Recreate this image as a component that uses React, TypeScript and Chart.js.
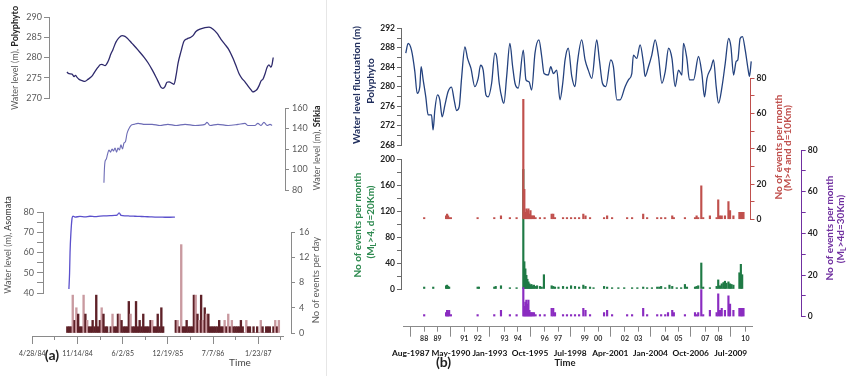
import React, { useEffect, useRef } from 'react';
import { Chart, registerables } from 'chart.js';

Chart.register(...registerables);

const FONT = 'Lato, "Open Sans", "DejaVu Sans", sans-serif';
const CW = 850;
const CH = 376;

// ---------------- Panel (a) : days since 4/28/84 ----------------
const A_TICK_DAYS = [0, 200, 400, 600, 800, 1000];
const A_TICK_LABELS = ['4/28/84', '11/14/84', '6/2/85', '12/19/85', '7/7/86', '1/23/87'];
const A_MINOR_DAYS = [0, 100, 200, 300, 400, 500, 600, 700, 800, 900, 1000, 1100];

const polyA_day = [153, 162, 176, 185, 191, 198, 207, 220, 233, 246, 264, 277, 291, 300, 308, 322, 335, 348, 357, 370, 384, 397, 410, 423, 441, 459, 476, 494, 512, 530, 547, 561, 569, 578, 587, 596, 605, 619, 627, 636, 645, 658, 671, 685, 698, 711, 724, 742, 764, 782, 800, 817, 835, 853, 870, 888, 901, 915, 928, 941, 954, 968, 976, 985, 994, 1003, 1012, 1021, 1030, 1039, 1047, 1056, 1061, 1066];
const polyA_level = [276.4, 276.0, 275.9, 275.3, 275.6, 275.1, 274.6, 274.3, 274.1, 274.6, 275.4, 276.5, 277.6, 278.2, 278.3, 278.0, 279.0, 280.9, 282.0, 283.8, 284.9, 285.4, 285.2, 284.6, 283.5, 282.4, 281.3, 280.1, 278.7, 277.0, 275.2, 273.6, 272.7, 272.4, 272.8, 273.9, 274.0, 273.6, 273.4, 275.5, 278.6, 281.5, 284.0, 284.6, 284.9, 285.4, 286.4, 287.0, 287.4, 287.5, 287.0, 286.0, 284.5, 283.2, 281.9, 279.8, 278.0, 276.0, 274.8, 274.0, 273.0, 272.0, 271.5, 271.7, 272.1, 273.0, 274.2, 274.7, 276.0, 277.6, 278.2, 277.6, 278.3, 280.0];

const sfikia_day = [317, 319, 322, 327, 333, 339, 346, 353, 359, 366, 373, 379, 386, 392, 399, 406, 412, 419, 428, 437, 450, 468, 499, 530, 565, 600, 636, 676, 720, 764, 773, 786, 821, 866, 910, 941, 954, 985, 998, 1012, 1025, 1039, 1052, 1061];
const sfikia_level = [87, 100, 108, 110, 115, 119, 117, 120, 118, 121, 117, 121, 119, 124, 120, 126, 127, 135, 140, 143, 144, 145, 144, 144, 143, 144, 143, 144, 143, 144, 146, 143, 144, 143, 144, 145, 143, 143, 145, 143, 146, 143, 144, 143];

const asomata_day = [162, 165, 167, 171, 176, 180, 189, 211, 233, 255, 278, 300, 322, 344, 365, 375, 384, 393, 412, 432, 454, 476, 498, 521, 543, 565, 587, 609, 631];
const asomata_level = [42, 50, 60, 70, 77, 78, 77.5, 77.8, 77.6, 77.9, 77.7, 78.0, 78.1, 78.2, 78.3, 78.4, 79.6, 78.3, 78.1, 78.0, 77.9, 77.8, 77.7, 77.6, 77.5, 77.5, 77.4, 77.4, 77.5];

const eventDayA = [155, 163, 171, 179, 187, 195, 203, 211, 219, 227, 235, 243, 251, 259, 267, 275, 283, 291, 299, 307, 315, 323, 331, 339, 347, 355, 363, 371, 379, 387, 395, 403, 411, 419, 427, 435, 443, 451, 459, 467, 475, 483, 491, 499, 507, 515, 523, 531, 539, 547, 555, 563, 571, 579,
  635, 643, 651, 659, 667, 675, 683, 691, 699, 707, 715, 723, 731, 739, 747, 755, 763, 771, 779, 787, 795, 803, 811, 819, 827, 835, 843, 851, 859, 867, 875, 883, 891, 899, 907, 915, 923, 931, 939, 947, 955, 963, 971, 979, 987, 995, 1003, 1011, 1019, 1027, 1035, 1043, 1051, 1059, 1067, 1075, 1083, 1091];
const eventCountA = [1, 1, 1, 6, 2, 4, 3, 1, 1, 6, 3, 2, 1, 1, 2, 1, 6, 1, 2, 4, 3, 1, 1, 0, 1, 3, 1, 1, 3, 3, 2, 1, 1, 1, 5, 3, 1, 1, 5, 1, 2, 1, 3, 1, 1, 1, 2, 2, 1, 1, 3, 1, 4, 1,
  2, 2, 1, 14, 1, 1, 2, 1, 1, 1, 6, 6, 3, 2, 6, 2, 4, 3, 3, 1, 1, 1, 1, 1, 2, 1, 1, 2, 1, 3, 1, 2, 1, 1, 1, 1, 2, 1, 0, 2, 1, 1, 0, 1, 0, 1, 0, 2, 1, 0, 1, 1, 1, 0, 1, 2, 1, 2];

// ---------------- Panel (b) : decimal years ----------------
const B_MAJOR_YEARS = [1987.5833, 1990.3333, 1993.0, 1995.75, 1998.5, 2001.25, 2004.0, 2006.75, 2009.5];
const B_MAJOR_LABELS = ['Aug-1987', 'May-1990', 'Jan-1993', 'Oct-1995', 'Jul-1998', 'Apr-2001', 'Jan-2004', 'Oct-2006', 'Jul-2009'];
const B_MINOR_YEARS = [1988.5, 1989.4167, 1991.25, 1992.1667, 1994.0, 1994.9167, 1996.75, 1997.6667, 1999.5, 2000.4167, 2002.25, 2003.1667, 2005.0, 2005.9167, 2007.75, 2008.6667, 2010.5];
const B_MINOR_LABELS = ['88', '89', '91', '92', '93', '94', '96', '97', '99', '00', '02', '03', '04', '05', '07', '08', '10'];

const polyB_year = [1987.24, 1987.40, 1987.63, 1987.86, 1988.02, 1988.20, 1988.29, 1988.43, 1988.61, 1988.77, 1989.00, 1989.11, 1989.23, 1989.41, 1989.57, 1989.73, 1989.92, 1990.14, 1990.37, 1990.55, 1990.72, 1990.90, 1991.06, 1991.29, 1991.47, 1991.70, 1991.97, 1992.20, 1992.36, 1992.54, 1992.73, 1992.88, 1993.12, 1993.34, 1993.46, 1993.64, 1993.85, 1993.96, 1994.15, 1994.37, 1994.56, 1994.72, 1994.94, 1995.29, 1995.47, 1995.68, 1995.86, 1996.09, 1996.36, 1996.55, 1996.71, 1997.00, 1997.17, 1997.35, 1997.58, 1997.80, 1997.99, 1998.15, 1998.37, 1998.61, 1998.83, 1998.99, 1999.29, 1999.52, 1999.74, 1999.98, 2000.32, 2000.50, 2000.71, 2000.94, 2001.28, 2001.46, 2001.70, 2001.92, 2002.26, 2002.49, 2002.72, 2002.83, 2003.06, 2003.29, 2003.52, 2003.63, 2003.86, 2004.09, 2004.32, 2004.55, 2004.78, 2005.01, 2005.24, 2005.47, 2005.69, 2005.92, 2006.15, 2006.26, 2006.49, 2006.67, 2006.95, 2007.29, 2007.52, 2007.70, 2007.87, 2008.14, 2008.32, 2008.50, 2008.66, 2008.90, 2009.12, 2009.35, 2009.51, 2009.69, 2009.87, 2009.98, 2010.14, 2010.30, 2010.49, 2010.71, 2010.78, 2010.90];
const polyB_level = [286.9, 288.9, 287.5, 283.1, 278.6, 280.0, 284.1, 281.4, 277.9, 274.2, 274.2, 271.1, 275.2, 278.3, 277.3, 273.8, 276.2, 279.0, 279.9, 277.3, 275.1, 275.9, 281.7, 288.2, 285.8, 283.8, 280.0, 281.7, 284.4, 283.4, 278.3, 277.9, 280.7, 286.9, 286.2, 280.7, 277.3, 276.6, 282.1, 288.9, 284.1, 280.7, 279.7, 287.5, 281.4, 281.0, 279.3, 286.9, 289.6, 286.2, 282.7, 282.4, 284.1, 282.7, 283.4, 277.3, 280.7, 285.5, 287.9, 282.1, 280.0, 284.8, 289.6, 285.5, 283.4, 281.7, 289.6, 285.5, 280.7, 280.0, 285.5, 284.1, 277.3, 277.3, 280.0, 281.4, 282.7, 286.5, 285.8, 288.6, 284.8, 282.1, 284.1, 286.5, 289.6, 286.2, 280.7, 283.1, 287.9, 285.8, 280.0, 283.4, 282.4, 288.9, 285.8, 281.4, 281.4, 286.2, 282.7, 277.9, 281.7, 283.8, 285.5, 280.0, 276.6, 280.0, 284.8, 289.9, 288.2, 282.4, 285.2, 285.5, 289.9, 290.3, 287.5, 283.1, 282.1, 285.2];

const red_year = [1988.50, 1990.00, 1990.07, 1990.14, 1990.21, 1990.33, 1992.16, 1993.30, 1993.76, 1994.37, 1994.83, 1995.29, 1995.36, 1995.43, 1995.50, 1995.57, 1995.64, 1995.71, 1995.78, 1995.85, 1995.92, 1996.02, 1996.13, 1996.43, 1996.75, 1997.23, 1997.34, 1997.46, 1998.01, 1998.28, 1998.56, 1998.83, 1999.11, 1999.40, 1999.55, 1999.86, 2000.82, 2001.03, 2001.37, 2002.40, 2002.74, 2003.50, 2003.77, 2004.46, 2004.73, 2005.01, 2005.49, 2005.60, 2006.36, 2007.05, 2007.16, 2007.27, 2007.48, 2007.61, 2008.07, 2008.53, 2008.64, 2008.76, 2008.88, 2009.10, 2009.34, 2009.45, 2009.68, 2010.09, 2010.19, 2010.28, 2010.37];
const red_count = [1, 2, 3, 2, 1, 1, 1, 1, 2, 1, 1, 68, 17, 4, 6, 5, 6, 3, 5, 2, 2, 2, 1, 1, 1, 3, 3, 1, 1, 1, 1, 1, 1, 3, 2, 1, 1, 2, 1, 1, 1, 3, 1, 1, 1, 1, 2, 1, 1, 1, 2, 1, 19, 1, 2, 1, 11, 2, 2, 2, 10, 5, 2, 4, 4, 4, 4];

const green_year = [1988.50, 1989.12, 1990.00, 1990.07, 1990.14, 1990.21, 1992.16, 1992.25, 1993.30, 1993.40, 1993.76, 1994.37, 1994.83, 1995.29, 1995.36, 1995.43, 1995.50, 1995.57, 1995.64, 1995.71, 1995.78, 1995.85, 1995.92, 1996.02, 1996.13, 1996.23, 1996.43, 1996.55, 1996.70, 1997.23, 1997.34, 1997.46, 1997.70, 1998.01, 1998.28, 1998.56, 1998.83, 1999.11, 1999.40, 1999.55, 1999.86, 2000.10, 2000.82, 2001.03, 2001.37, 2001.80, 2002.20, 2002.74, 2003.10, 2003.50, 2003.77, 2004.10, 2004.46, 2004.60, 2004.73, 2005.01, 2005.30, 2005.49, 2005.80, 2006.10, 2006.36, 2006.50, 2007.05, 2007.16, 2007.27, 2007.48, 2007.61, 2008.07, 2008.53, 2008.64, 2008.76, 2008.88, 2009.00, 2009.10, 2009.20, 2009.34, 2009.45, 2009.55, 2009.68, 2010.09, 2010.19, 2010.28];
const green_count = [3, 3, 5, 6, 4, 3, 3, 3, 3, 4, 5, 2, 2, 184, 42, 31, 21, 15, 11, 8, 6, 7, 5, 6, 4, 5, 4, 3, 22, 5, 4, 3, 3, 4, 3, 5, 4, 3, 6, 4, 3, 2, 4, 3, 2, 2, 2, 2, 2, 3, 2, 2, 3, 3, 4, 2, 6, 4, 2, 2, 7, 3, 3, 4, 5, 40, 3, 2, 4, 14, 5, 8, 10, 12, 9, 11, 8, 7, 6, 25, 38, 22];

const purple_year = [1988.50, 1990.00, 1990.07, 1990.14, 1990.21, 1990.33, 1992.16, 1993.30, 1993.76, 1994.37, 1994.83, 1995.29, 1995.36, 1995.43, 1995.50, 1995.57, 1995.64, 1995.71, 1995.78, 1995.85, 1995.92, 1996.02, 1996.13, 1996.43, 1996.75, 1997.23, 1997.34, 1997.46, 1998.01, 1998.28, 1998.56, 1998.83, 1999.11, 1999.40, 1999.55, 1999.86, 2000.82, 2001.03, 2001.37, 2002.40, 2002.74, 2003.50, 2003.77, 2004.46, 2004.73, 2005.01, 2005.20, 2005.49, 2005.60, 2006.36, 2007.05, 2007.16, 2007.27, 2007.48, 2007.61, 2008.07, 2008.53, 2008.64, 2008.76, 2008.88, 2009.10, 2009.34, 2009.45, 2009.68, 2010.09, 2010.19, 2010.28, 2010.37];
const purple_count = [1, 2, 3, 2, 3, 1, 1, 1, 3, 1, 1, 14, 5, 7, 8, 6, 8, 3, 2, 2, 2, 2, 1, 1, 1, 4, 4, 2, 1, 1, 1, 1, 1, 4, 3, 1, 2, 3, 1, 1, 1, 4, 1, 1, 1, 1, 2, 3, 2, 1, 2, 1, 2, 13, 1, 3, 2, 11, 3, 4, 3, 10, 6, 3, 4, 4, 4, 4];

// ---------------- layout mapping (pixels <-> data) ----------------
const A_X0 = 32.3;
const A_DPP = 200 / 45.2;
const dayAt = (px: number) => (px - A_X0) * A_DPP;
const B_X0 = 410.8;
const B_Y0 = 1987.5833;
const B_PPY = 14.6;
const yearAt = (px: number) => B_Y0 + (px - B_X0) / B_PPY;

const AXW = 40;

const pts = (xs: number[], ys: number[]) => xs.map((x, i) => ({ x, y: ys[i] }));
const range = (a: number, b: number, s: number) => { const r: number[] = []; for (let v = a; v <= b + 1e-9; v += s) r.push(v); return r; };

type Area = { l: number; t: number; r: number; b: number };
type YSpec = { side: 'left' | 'right'; min: number; max: number; ticks: number[]; label: (v: number) => string; color: string; labelColor: string; font: any; tickLength: number; padding: number };
type XSpec = { ticks: number[]; label: (v: number) => string; color: string; labelColor: string; font: any; tickLength: number; padding: number; height: number };
type Spec = { type: 'line' | 'bar'; area: Area; xr: [number, number]; y?: YSpec; x?: XSpec; datasets: any[] };

function makeChart(canvas: HTMLCanvasElement, spec: Spec) {
  const { area, y, x } = spec;
  const padding = {
    left: y && y.side === 'left' ? area.l - AXW : area.l,
    right: y && y.side === 'right' ? CW - area.r - AXW : CW - area.r,
    top: area.t,
    bottom: x ? CH - area.b - x.height : CH - area.b,
  };
  const xScale: any = {
    type: 'linear', min: spec.xr[0], max: spec.xr[1], offset: false, display: !!x, position: 'bottom',
  };
  if (x) {
    Object.assign(xScale, {
      grid: { drawOnChartArea: false, drawTicks: true, tickLength: x.tickLength, color: x.color, tickColor: x.color, lineWidth: 1 },
      border: { display: true, color: x.color, width: 1 },
      ticks: { autoSkip: false, maxRotation: 0, minRotation: 0, padding: x.padding, color: x.labelColor, font: x.font, callback: (v: any) => x.label(Number(v)) },
      afterBuildTicks: (s: any) => { s.ticks = x.ticks.map((v) => ({ value: v })); },
      afterFit: (s: any) => { s.height = x.height; },
    });
  }
  const yScale: any = { type: 'linear', display: !!y, min: y ? y.min : 0, max: y ? y.max : 1, position: y ? y.side : 'left' };
  if (y) {
    Object.assign(yScale, {
      grid: { drawOnChartArea: false, drawTicks: true, tickLength: y.tickLength, color: y.color, tickColor: y.color, lineWidth: 1 },
      border: { display: true, color: y.color, width: 1 },
      ticks: { autoSkip: false, padding: y.padding, color: y.labelColor, font: y.font, callback: (v: any) => y.label(Number(v)) },
      afterBuildTicks: (s: any) => { s.ticks = y.ticks.map((v) => ({ value: v })); },
      afterFit: (s: any) => { s.width = AXW; },
    });
  }
  return new Chart(canvas, {
    type: spec.type,
    data: { datasets: spec.datasets },
    options: {
      animation: false,
      responsive: false,
      devicePixelRatio: 1,
      layout: { padding },
      plugins: { legend: { display: false }, tooltip: { enabled: false }, title: { display: false } },
      scales: { x: xScale, y: yScale },
    } as any,
  });
}

const fontA = { family: FONT, size: 9 };
const fontB = { family: FONT, size: 8.5, weight: 'bold' };
const A_AXIS = '#8a8a8a';
const A_LABEL = '#5a5a5a';
const B_AXIS = '#6a6a6a';
const B_LABEL = '#222222';
const RED = '#c0504d';
const GREEN = '#1f7a45';
const PURPLE = '#8a2cc0';
const PURPLE_AXIS = '#7030a0';

const lineDs = (xs: number[], ys: number[], color: string, w = 1.3) => ({
  data: pts(xs, ys), borderColor: color, borderWidth: w, pointRadius: 0, cubicInterpolationMode: 'monotone', fill: false,
});
const barDs = (xs: number[], ys: number[], color: any, w = 1.5) => ({
  data: pts(xs, ys), backgroundColor: color, borderWidth: 0, barThickness: w, grouped: false,
});

const all = (v: number) => String(v);
const every = (base: number, step: number) => (v: number) => (Math.abs((v - base) / step - Math.round((v - base) / step)) < 1e-6 ? String(v) : '');

const aEvtColors = eventCountA.map((c, i) => (c > 1 && i % 2 === 1 ? '#c99aa0' : '#5e2128'));

const bAllTicks = [...B_MAJOR_YEARS, ...B_MINOR_YEARS].sort((p, q) => p - q);
const minorLabel = (v: number) => { const i = B_MINOR_YEARS.findIndex((m) => Math.abs(m - v) < 1e-6); return i >= 0 ? B_MINOR_LABELS[i] : ''; };
const majorLabel = (v: number) => { const i = B_MAJOR_YEARS.findIndex((m) => Math.abs(m - v) < 1e-6); return i >= 0 ? B_MAJOR_LABELS[i] : ''; };
const aMajorLabel = (v: number) => { const i = A_TICK_DAYS.indexOf(v); return i >= 0 ? A_TICK_LABELS[i] : ''; };

const aX = (a: Area): [number, number] => [dayAt(a.l), dayAt(a.r)];
const bX = (a: Area): [number, number] => [yearAt(a.l), yearAt(a.r)];

const aPolyArea = { l: 49, t: 17, r: 283, b: 98 };
const aSfkArea = { l: 32, t: 108, r: 285, b: 190 };
const aAsoArea = { l: 43, t: 212, r: 283, b: 293 };
const aEvtArea = { l: 32, t: 232, r: 291, b: 333 };
const aXArea = { l: 32.3, t: 310, r: 283, b: 336 };
const bPolyArea = { l: 401, t: 28.3, r: 752, b: 145 };
const bGreenArea = { l: 401, t: 159, r: 752, b: 289 };
const bPurpleArea = { l: 403, t: 150, r: 801.7, b: 316.7 };
const bRedArea = { l: 403, t: 78.3, r: 750.5, b: 219.3 };
const bXArea = { l: 403, t: 300, r: 752, b: 326.7 };

const ySpecA = (side: 'left' | 'right', min: number, max: number, ticks: number[], label: (v: number) => string, tickLength: number, padding: number): YSpec => ({
  side, min, max, ticks, label, color: A_AXIS, labelColor: A_LABEL, font: fontA, tickLength, padding,
});
const ySpecB = (side: 'left' | 'right', min: number, max: number, ticks: number[], label: (v: number) => string, color: string): YSpec => ({
  side, min, max, ticks, label, color, labelColor: B_LABEL, font: fontB, tickLength: 4, padding: 2,
});

const SPECS: Spec[] = [
  { type: 'line', area: aPolyArea, xr: aX(aPolyArea), y: ySpecA('left', 270, 290, range(270, 290, 5), all, 5, 2), datasets: [lineDs(polyA_day, polyA_level, '#2e2a6c', 1.3)] },
  { type: 'line', area: aSfkArea, xr: aX(aSfkArea), y: ySpecA('right', 80, 160, range(80, 160, 20), all, 4, 3), datasets: [lineDs(sfikia_day, sfikia_level, '#6d6cb6', 1.1)] },
  { type: 'line', area: aAsoArea, xr: aX(aAsoArea), y: ySpecA('left', 40, 80, range(40, 80, 5), every(40, 10), 6, 3), datasets: [lineDs(asomata_day, asomata_level, '#5b50cc', 1.3)] },
  { type: 'bar', area: aEvtArea, xr: aX(aEvtArea), y: ySpecA('right', 0, 16, range(0, 16, 4), all, 4, 4), datasets: [barDs(eventDayA, eventCountA, aEvtColors, 1.7)] },
  { type: 'line', area: aXArea, xr: aX(aXArea), x: { ticks: A_MINOR_DAYS, label: () => '', color: A_AXIS, labelColor: A_LABEL, font: fontA, tickLength: 4, padding: 2, height: 30 }, datasets: [] },
  { type: 'line', area: aXArea, xr: aX(aXArea), x: { ticks: A_TICK_DAYS, label: aMajorLabel, color: A_AXIS, labelColor: '#444444', font: { family: FONT, size: 7 }, tickLength: 8, padding: 6, height: 30 }, datasets: [] },
  { type: 'line', area: bPolyArea, xr: bX(bPolyArea), y: ySpecB('left', 268, 292, range(268, 292, 2), every(268, 4), B_AXIS), datasets: [lineDs(polyB_year, polyB_level, '#24427e', 1.3)] },
  { type: 'bar', area: bGreenArea, xr: bX(bGreenArea), y: ySpecB('left', 0, 200, range(0, 200, 20), every(0, 40), B_AXIS), datasets: [barDs(green_year, green_count, GREEN, 1.5)] },
  { type: 'bar', area: bPurpleArea, xr: bX(bPurpleArea), y: ySpecB('right', 0, 80, range(0, 80, 10), every(0, 20), PURPLE_AXIS), datasets: [barDs(purple_year, purple_count, PURPLE, 1.5)] },
  { type: 'bar', area: bRedArea, xr: bX(bRedArea), y: ySpecB('right', 0, 80, range(0, 80, 10), every(0, 20), RED), datasets: [barDs(red_year, red_count, RED, 1.5)] },
  { type: 'line', area: bXArea, xr: bX(bXArea), x: { ticks: bAllTicks, label: minorLabel, color: '#8a8a8a', labelColor: '#333333', font: { family: FONT, size: 7, weight: 'bold' }, tickLength: 5, padding: 3, height: 40 }, datasets: [] },
  { type: 'line', area: bXArea, xr: bX(bXArea), x: { ticks: B_MAJOR_YEARS, label: majorLabel, color: '#8a8a8a', labelColor: '#111111', font: { family: FONT, size: 8.4, weight: 'bold' }, tickLength: 10, padding: 12, height: 40 }, datasets: [] },
];

function Layer({ spec }: { spec: Spec }) {
  const ref = useRef<HTMLCanvasElement>(null);
  useEffect(() => {
    const c = makeChart(ref.current as HTMLCanvasElement, spec);
    return () => c.destroy();
  }, [spec]);
  return <canvas ref={ref} width={CW} height={CH} style={{ position: 'absolute', left: 0, top: 0, width: CW, height: CH }} />;
}

function VText({ x, y, size, color, weight, children }: any) {
  return (
    <div style={{ position: 'absolute', left: x, top: y, transform: 'translate(-50%, -50%) rotate(-90deg)', whiteSpace: 'nowrap', fontSize: size, color, fontWeight: weight || 'normal', lineHeight: 1, fontFamily: FONT }}>
      {children}
    </div>
  );
}

function HText({ x, y, size, color, weight, children }: any) {
  return (
    <div style={{ position: 'absolute', left: x, top: y, transform: 'translate(-50%, -50%)', whiteSpace: 'nowrap', fontSize: size, color, fontWeight: weight || 'normal', lineHeight: 1, fontFamily: FONT }}>
      {children}
    </div>
  );
}

const Sub = ({ children }: any) => <span style={{ fontSize: '0.72em', verticalAlign: '-0.25em' }}>{children}</span>;

export default function App() {
  return (
    <div style={{ position: 'absolute', left: 0, top: 0, width: CW, height: CH, background: '#ffffff', overflow: 'hidden', fontFamily: FONT }}>
      <div style={{ position: 'absolute', left: 326, top: 0, width: 1, height: CH, background: '#e6e6e6' }} />
      {SPECS.map((s, i) => <Layer key={i} spec={s} />)}

      <VText x={14} y={58} size={9} color={A_LABEL}>Water level (m), <b style={{ color: '#222' }}>Polyphyto</b></VText>
      <VText x={316} y={148} size={9} color={A_LABEL}>Water level (m), <b style={{ color: '#222' }}>Sfikia</b></VText>
      <VText x={7} y={245} size={9} color={A_LABEL}>Water level (m), <span style={{ color: '#333' }}>Asomata</span></VText>
      <VText x={316} y={280} size={9.5} color={A_LABEL}>No of events per day</VText>
      <HText x={52} y={355} size={14} color="#222" weight="bold">(a)</HText>
      <HText x={240} y={361.5} size={10} color="#444">Time</HText>

      <VText x={356} y={85} size={10} color="#1f2d5c" weight="bold">Water level fluctuation (m)</VText>
      <VText x={370} y={81} size={10} color="#1f2d5c" weight="bold">Polyphyto</VText>
      <VText x={357} y={224.5} size={10} color="#2e8a50" weight="bold">No of events per month</VText>
      <VText x={371} y={222} size={10} color="#2e8a50" weight="bold">(M<Sub>L</Sub>{'>'}4, d=20Km)</VText>
      <VText x={777.5} y={147} size={10} color={RED} weight="bold">No of events per month</VText>
      <VText x={787} y={148} size={10} color={RED} weight="bold">(M{'>'}4 and d=10Km)</VText>
      <VText x={829} y={228} size={10} color={PURPLE_AXIS} weight="bold">No of events per month</VText>
      <VText x={841} y={229} size={10} color={PURPLE_AXIS} weight="bold">(M<Sub>L</Sub>{'>'}4d=30Km)</VText>
      <HText x={443.5} y={362} size={14} color="#222" weight="bold">(b)</HText>
      <HText x={565} y={363} size={9.5} color="#222" weight="bold">Time</HText>
    </div>
  );
}
